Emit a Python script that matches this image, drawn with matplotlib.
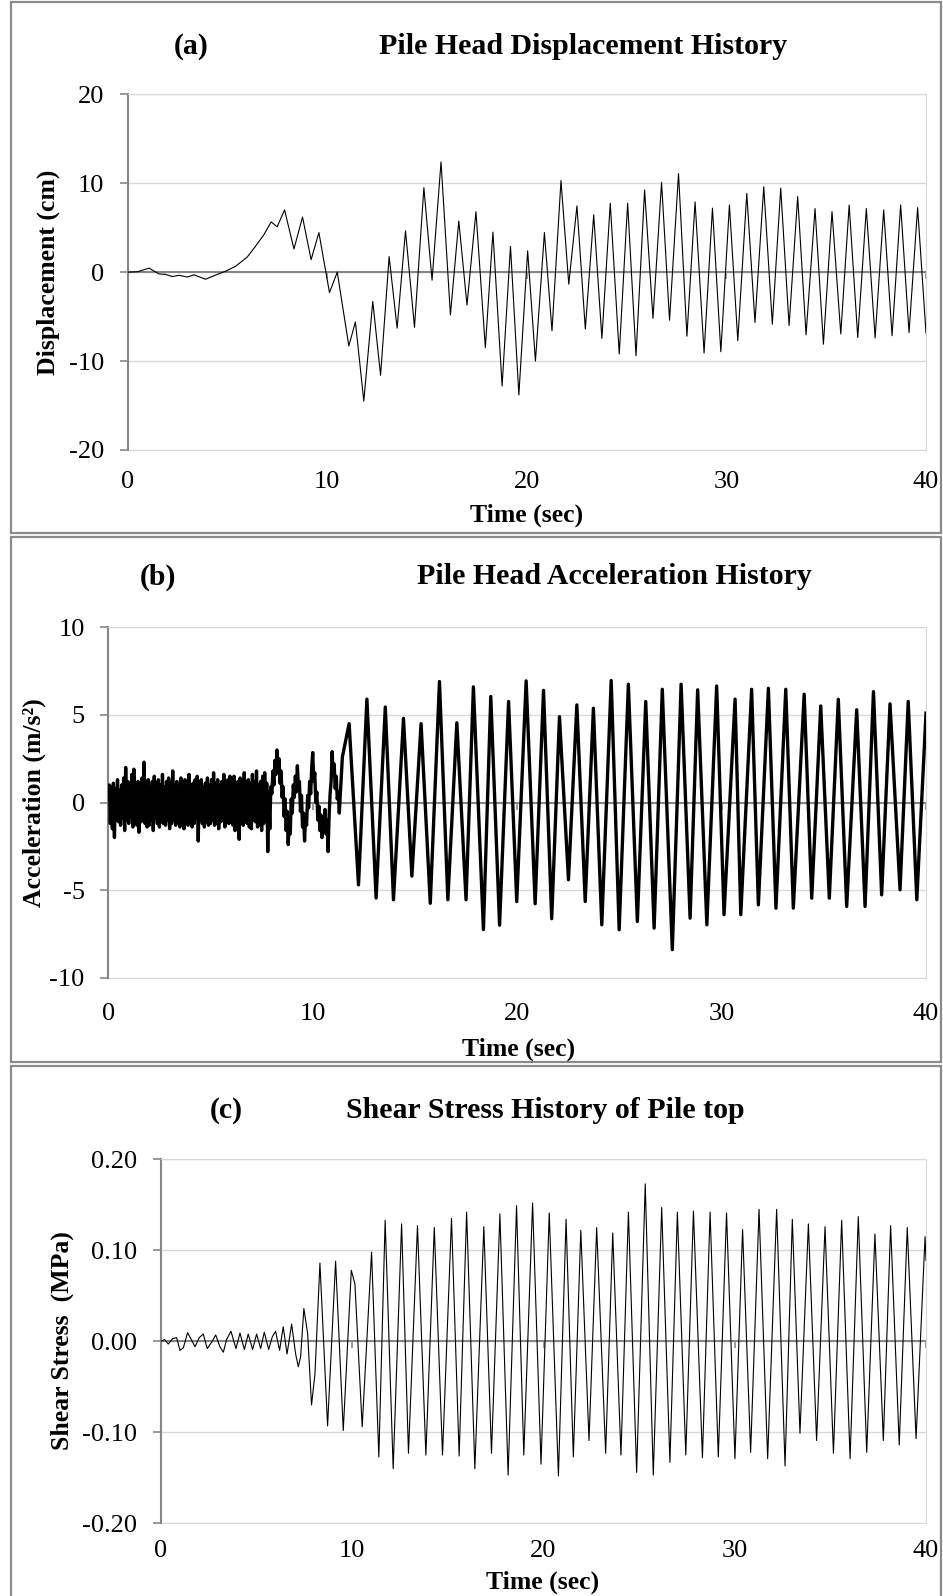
import matplotlib.pyplot as plt
import numpy as np
from matplotlib.patches import Rectangle

# ---------------------------------------------------------------------------
# time histories (extrema read along each record)
# ---------------------------------------------------------------------------
# (a) pile head displacement, cm
disp_t = [0.0, 0.5, 1.07, 1.57, 1.9, 2.24, 2.57, 2.99, 3.32, 3.9, 4.49, 4.9,
          5.4, 5.99, 6.4, 6.82, 7.19, 7.49, 7.86, 8.33, 8.76, 9.19, 9.58,
          10.11, 10.5, 11.08, 11.41, 11.83, 12.28, 12.67, 13.1, 13.5, 13.92,
          14.37, 14.84, 15.25, 15.7, 16.17, 16.59, 17.0, 17.45, 17.92, 18.3,
          18.76, 19.18, 19.6, 20.04, 20.43, 20.88, 21.26, 21.71, 22.1, 22.51,
          22.93, 23.35, 23.76, 24.18, 24.63, 25.05, 25.47, 25.9, 26.32, 26.75,
          27.15, 27.6, 28.02, 28.43, 28.88, 29.3, 29.72, 30.15, 30.57, 31.02,
          31.43, 31.87, 32.3, 32.72, 33.14, 33.57, 33.99, 34.44, 34.86, 35.29,
          35.73, 36.15, 36.58, 37.01, 37.45, 37.88, 38.3, 38.73, 39.15, 39.58,
          40.0]
disp_v = [0.0, 0.05, 0.45, -0.2, -0.25, -0.5, -0.35, -0.55, -0.3, -0.8, -0.25,
          0.1, 0.65, 1.7, 2.9, 4.2, 5.65, 5.1, 7.0, 2.6, 6.2, 1.4, 4.45, -2.3,
          0.0, -8.3, -5.6, -14.5, -3.3, -11.6, 1.75, -6.3, 4.65, -6.2, 9.5,
          -0.9, 12.4, -4.8, 5.75, -3.7, 6.8, -8.5, 4.5, -12.8, 2.9, -13.8, 2.4,
          -10.0, 4.45, -6.6, 10.3, -1.35, 7.45, -6.4, 6.45, -7.45, 7.75, -9.2,
          7.75, -9.4, 9.25, -5.2, 10.1, -5.4, 11.1, -7.2, 7.9, -9.1, 7.2,
          -8.95, 7.55, -7.7, 8.85, -5.65, 9.6, -5.85, 9.45, -6.0, 8.5, -7.05,
          7.15, -8.1, 6.8, -6.95, 7.55, -7.35, 7.15, -7.4, 7.0, -7.15, 7.55,
          -6.8, 7.25, -6.85]

# (b) pile head acceleration, m/s2
# noisy start of the record, sampled every 0.05 s (0 - 11.45 s)
acc_dense_dt = 0.05
acc_dense = [
    0.2, 1.0, -1.2, 0.9, -1.5, 1.1, -2.0, 0.8, -1.0, 1.3,
    -1.1, 0.7, -1.3, 1.0, -0.9, 1.4, -1.6, 2.0, -1.0, 1.2,
    -1.2, 1.1, -0.8, 1.6, -1.4, 1.9, -1.0, 0.9, -1.3, 1.2,
    -1.7, 1.0, -1.1, 1.4, -0.9, 2.3, -1.2, 1.0, -1.4, 1.3,
    -1.3, 0.9, -1.0, 1.2, -1.6, 1.5, -0.9, 1.1, -1.2, 1.3,
    -1.4, 1.0, -1.1, 1.6, -1.2, 0.9, -1.3, 1.2, -1.0, 1.4,
    -1.5, 1.1, -1.2, 1.8, -1.0, 1.0, -1.3, 1.2, -1.1, 0.9,
    -1.4, 1.4, -1.2, 1.0, -1.5, 1.3, -1.0, 1.2, -1.3, 1.6,
    -1.1, 1.0, -1.4, 1.1, -1.2, 1.3, -0.9, 1.5, -2.2, 1.2,
    -1.0, 1.3, -1.2, 0.9, -1.4, 1.1, -1.1, 1.4, -1.3, 1.0,
    -1.2, 1.3, -1.0, 1.7, -1.3, 1.1, -1.2, 1.3, -1.5, 1.0,
    -1.1, 1.2, -1.0, 1.6, -1.4, 1.2, -1.1, 1.3, -1.2, 1.5,
    -1.1, 1.0, -1.3, 1.5, -1.6, 1.1, -1.0, 1.2, -2.1, 1.4,
    -1.2, 1.3, -1.3, 1.7, -1.1, 1.2, -1.2, 1.3, -1.4, 1.1,
    -1.5, 1.6, -1.0, 1.2, -1.1, 1.8, -1.4, 1.0, -1.3, 1.2,
    -1.6, 1.5, -1.2, 1.7, -1.0, 1.1, -2.8, 0.6, -1.5, 0.9,
    0.5, 1.8, 1.0, 2.4, 1.6, 3.0, 1.9, 2.5, 1.1, 1.8,
    0.3, 0.9, -0.8, 0.2, -1.6, -0.5, -2.4, -1.2, -1.8, 0.2,
    -0.6, 1.0, 0.3, 1.5, 0.6, 2.1, 0.8, 1.2, -0.5, 0.4,
    -1.4, -0.6, -2.2, -0.8, -1.3, 0.4, -0.3, 1.2, 0.5, 2.0,
    2.85, 1.2, 1.7, 0.0, 0.6, -1.0, -0.2, -1.6, -0.7, -2.0,
    -0.9, -1.5, -0.4, -1.8, -1.0, -2.8, -0.8, 0.5, 1.2, 2.9,
    1.6, 2.2, 0.8, 1.5, 0.2, 0.6, -0.6, 0.5, 1.5, 2.6,
]
# main cycles, peaks and troughs
acc_t = [11.78, 12.24, 12.65, 13.1, 13.55, 13.95, 14.44, 14.85, 15.3, 15.75,
         16.2, 16.61, 17.05, 17.5, 17.86, 18.35, 18.71, 19.14, 19.58, 19.98,
         20.44, 20.88, 21.29, 21.69, 22.07, 22.51, 22.92, 23.33, 23.73, 24.14,
         24.6, 24.99, 25.44, 25.88, 26.29, 26.7, 27.1, 27.59, 28.02, 28.46,
         28.83, 29.28, 29.76, 30.12, 30.66, 30.94, 31.47, 31.8, 32.29, 32.66,
         33.14, 33.51, 34.04, 34.41, 34.85, 35.27, 35.71, 36.12, 36.61, 37.02,
         37.43, 37.83, 38.24, 38.73, 39.13, 39.55, 40.0]
acc_v = [4.5, -4.7, 5.9, -5.45, 5.45, -5.55, 4.8, -4.2, 4.5, -5.75, 6.9,
         -5.55, 4.55, -5.55, 6.6, -7.25, 6.05, -7.0, 5.76, -5.65, 6.94, -5.78,
         6.4, -6.63, 4.9, -4.41, 5.57, -5.65, 5.38, -6.98, 6.96, -7.26, 6.75,
         -6.79, 5.76, -7.17, 6.46, -8.4, 6.75, -6.6, 6.43, -6.98, 6.65, -6.4,
         5.9, -6.4, 6.46, -5.84, 6.52, -6.03, 6.46, -6.03, 6.18, -5.46, 5.51,
         -5.46, 5.89, -5.93, 5.29, -5.93, 6.33, -5.27, 5.63, -4.98, 5.76,
         -5.55, 5.1]

# (c) shear stress at pile top, MPa
shear_t = [0.0, 0.18, 0.38, 0.61, 0.82, 0.99, 1.17, 1.39, 1.78, 2.0, 2.21,
           2.42, 2.65, 2.86, 3.08, 3.26, 3.43, 3.66, 3.92, 4.13, 4.36, 4.56,
           4.79, 5.0, 5.21, 5.4, 5.63, 5.82, 5.99, 6.2, 6.39, 6.59, 6.83, 7.04,
           7.18, 7.3, 7.47, 7.67, 7.87, 8.05, 8.31, 8.71, 9.13, 9.53, 9.95,
           10.14, 10.52, 11.01, 11.39, 11.72, 12.14, 12.58, 12.94, 13.41,
           13.85, 14.29, 14.72, 15.19, 15.59, 15.98, 16.41, 16.88, 17.28,
           17.72, 18.15, 18.59, 18.97, 19.43, 19.87, 20.3, 20.78, 21.18, 21.56,
           21.95, 22.38, 22.78, 23.25, 23.62, 24.05, 24.44, 24.87, 25.32,
           25.74, 26.18, 26.61, 27.0, 27.44, 27.84, 28.31, 28.71, 29.14, 29.57,
           30.01, 30.41, 30.83, 31.27, 31.72, 32.19, 32.63, 33.01, 33.41,
           33.85, 34.28, 34.72, 35.16, 35.59, 36.03, 36.46, 36.9, 37.33, 37.77,
           38.15, 38.6, 39.02, 39.48, 39.95, 40.0]
shear_v = [0.0, 0.002, -0.003, 0.003, 0.004, -0.01, -0.007, 0.0095, -0.006,
           0.004, 0.008, -0.008, -0.001, 0.007, -0.006, -0.012, 0.002, 0.011,
           -0.008, 0.009, -0.009, 0.008, -0.009, 0.008, -0.008, 0.01, -0.009,
           0.005, 0.011, -0.01, 0.016, -0.014, 0.019, -0.014, -0.028, -0.017,
           0.036, 0.008, -0.07, -0.036, 0.086, -0.093, 0.088, -0.098, 0.078,
           0.063, -0.094, 0.098, -0.127, 0.133, -0.14, 0.129, -0.123, 0.127,
           -0.125, 0.125, -0.125, 0.135, -0.126, 0.142, -0.14, 0.126, -0.123,
           0.14, -0.147, 0.149, -0.125, 0.152, -0.135, 0.141, -0.148, 0.134,
           -0.127, 0.122, -0.109, 0.125, -0.123, 0.119, -0.125, 0.142, -0.144,
           0.173, -0.147, 0.147, -0.133, 0.142, -0.125, 0.143, -0.128, 0.142,
           -0.127, 0.141, -0.129, 0.123, -0.122, 0.145, -0.129, 0.145, -0.137,
           0.134, -0.101, 0.129, -0.109, 0.126, -0.123, 0.133, -0.129, 0.137,
           -0.122, 0.118, -0.109, 0.127, -0.114, 0.125, -0.107, 0.115, 0.089]

time_ticks = [0, 10, 20, 30, 40]

# ---------------------------------------------------------------------------
plt.rcParams['font.family'] = 'Liberation Serif'

W, H = 943, 1596
fig = plt.figure(figsize=(W / 100, H / 100), dpi=100)

AXIS_GREY = '#868686'
GRID_GREY = '#d9d9d9'
FRAME_GREY = '#8a8a8a'


def fx(x):
    return x / W


def fy(y):
    return 1 - y / H


def make_axes(x0, y0, x1, y1):
    return fig.add_axes([fx(x0), fy(y1), (x1 - x0) / W, (y1 - y0) / H])


def style(ax, yticks, fmt, xpad):
    ax.set_xlim(0, 40)
    ax.set_ylim(yticks[0], yticks[-1])
    ax.set_yticks(yticks)
    ax.set_yticklabels([fmt.format(v) for v in yticks])
    ax.yaxis.grid(True, color=GRID_GREY, lw=1.0)
    ax.set_axisbelow(True)

    ax.spines['left'].set_color(AXIS_GREY)
    ax.spines['left'].set_linewidth(1.5)
    ax.spines['right'].set_color(GRID_GREY)
    ax.spines['top'].set_color(GRID_GREY)
    # horizontal axis crosses at zero
    ax.spines['bottom'].set_position(('data', 0))
    ax.spines['bottom'].set_color(AXIS_GREY)
    ax.spines['bottom'].set_linewidth(1.5)
    ax.spines['bottom'].set_zorder(2.2)

    ax.set_xticks(time_ticks)
    ax.tick_params(axis='x', direction='out', length=5, width=1.2,
                   color=AXIS_GREY, labelbottom=False)
    ax.tick_params(axis='y', direction='out', length=6, width=1.2,
                   color=AXIS_GREY, pad=11, labelsize=19)

    # time labels sit below the plot area, not on the zero line
    sec = ax.secondary_xaxis('bottom')
    sec.set_xticks(time_ticks)
    sec.tick_params(length=0, pad=xpad, labelsize=19)
    sec.spines['bottom'].set_color(GRID_GREY)


def frame(y0, y1):
    fig.patches.append(Rectangle((fx(11), fy(y1)), fx(941) - fx(11),
                                 fy(y0) - fy(y1), transform=fig.transFigure,
                                 fill=False, ec=FRAME_GREY, lw=1.6))


def heading(tag, xt, title, xm, y):
    fig.text(fx(xt), fy(y), tag, ha='center', va='center',
             fontsize=21.5, fontweight='bold')
    fig.text(fx(xm), fy(y), title, ha='center', va='center',
             fontsize=21.5, fontweight='bold')


# panel frames
frame(2, 533)
frame(537, 1062)
frame(1066, 1610)

# (a) displacement
ax_a = make_axes(127.7, 94.3, 926, 450)
style(ax_a, [-20, -10, 0, 10, 20], '{:d}', 15)
ax_a.plot(disp_t, disp_v, color='black', lw=0.8, zorder=3)
heading('(a)', 191, 'Pile Head Displacement History', 583, 46)
fig.text(fx(527), fy(515), 'Time (sec)', ha='center', va='center',
         fontsize=18.5, fontweight='bold')
fig.text(fx(48.5), fy(272), 'Displacement (cm)', ha='center', va='center',
         rotation=90, fontsize=18.5, fontweight='bold')

# (b) acceleration
ax_b = make_axes(108.3, 627.3, 926, 977.7)
style(ax_b, [-10, -5, 0, 5, 10], '{:d}', 18)
dense_t = np.arange(len(acc_dense)) * acc_dense_dt
ax_b.plot(np.concatenate([dense_t, acc_t]),
          np.concatenate([acc_dense, acc_v]),
          color='black', lw=2.4, zorder=3)
heading('(b)', 158, 'Pile Head Acceleration History', 614, 577)
fig.text(fx(519), fy(1049), 'Time (sec)', ha='center', va='center',
         fontsize=18.5, fontweight='bold')
fig.text(fx(34), fy(803), 'Acceleration (m/s²)', ha='center', va='center',
         rotation=90, fontsize=18.5, fontweight='bold')

# (c) shear stress
ax_c = make_axes(161, 1159.3, 926, 1523.3)
style(ax_c, [-0.2, -0.1, 0.0, 0.1, 0.2], '{:.2f}', 12)
ax_c.plot(shear_t, shear_v, color='black', lw=0.8, zorder=3)
heading('(c)', 226, 'Shear Stress History of Pile top', 545, 1110)
fig.text(fx(543), fy(1582), 'Time (sec)', ha='center', va='center',
         fontsize=18.5, fontweight='bold')
fig.text(fx(62), fy(1341), 'Shear Stress  (MPa)', ha='center', va='center',
         rotation=90, fontsize=18.5, fontweight='bold')

fig.savefig('out.png', dpi=100, facecolor='white')
